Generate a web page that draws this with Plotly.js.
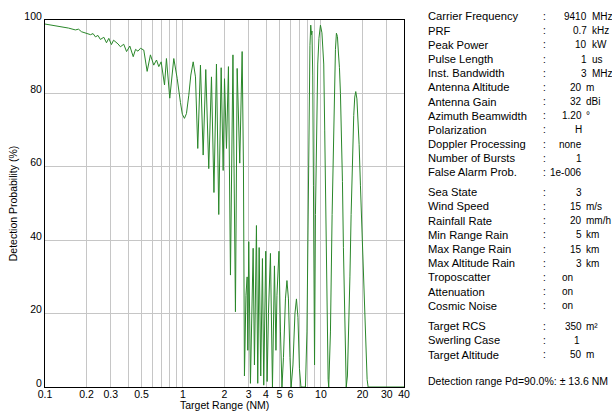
<!DOCTYPE html>
<html>
<head>
<meta charset="utf-8">
<script src="https://cdn.plot.ly/plotly-3.0.1.min.js"></script>
<style>
  html, body { margin: 0; padding: 0; background: #fff; }
  #chart { width: 612px; height: 412px; }
</style>
</head>
<body>
<div id="chart"></div>
<script>
// ---- Data ----
const rangeNM = [
  0.1, 0.113, 0.1295, 0.148, 0.166, 0.175, 0.184, 0.202, 0.214, 0.223,
  0.232, 0.242, 0.252, 0.267, 0.279, 0.290, 0.303, 0.314, 0.324, 0.338,
  0.352, 0.372, 0.390, 0.412, 0.436, 0.453, 0.472, 0.492, 0.520, 0.550,
  0.581, 0.614, 0.643, 0.668, 0.695, 0.735, 0.759, 0.802, 0.858, 0.908,
  0.959, 0.99, 1.025, 1.06, 1.102, 1.14, 1.186, 1.232, 1.280, 1.339,
  1.401, 1.463, 1.538, 1.609, 1.677, 1.749, 1.817, 1.892, 1.956, 2.0,
  2.067, 2.136, 2.209, 2.303, 2.401, 2.471, 2.580, 2.685, 2.744, 2.79,
  2.861, 2.919, 2.949, 2.998, 3.084, 3.162, 3.226, 3.297, 3.409, 3.483,
  3.566, 3.662, 3.768, 3.850, 3.981, 4.075, 4.165, 4.306, 4.453, 4.603,
  4.720, 4.800, 4.963, 5.089, 5.218, 5.350, 5.531, 5.671, 5.815, 5.963,
  6.083, 6.268, 6.480, 6.645, 6.813, 6.986, 7.163, 7.468, 7.722, 7.918,
  8.051, 8.185, 8.324, 8.436, 8.535, 8.606, 8.722, 8.825, 8.913, 8.987,
  9.123, 9.278, 9.480, 9.672, 9.917, 10.167, 10.48, 10.65, 10.83, 11.05,
  11.28, 11.39, 11.72, 12.05, 12.32, 12.53, 12.74, 12.95, 13.17, 13.39,
  13.62, 13.85, 14.08, 14.32, 14.55, 14.80, 15.05, 15.25, 15.56, 15.82,
  16.22, 16.55, 16.91, 17.29, 17.58, 17.88, 18.23, 18.54, 18.92, 19.33,
  19.82, 20.42, 21.01, 21.62, 21.98, 30, 40
];
const detectionPct = [
  98.9, 98.6, 98.2, 97.8, 97.3, 97.5, 96.8, 96.4, 96.0, 96.3,
  95.4, 95.8, 94.7, 95.3, 93.8, 95.0, 93.3, 94.5, 94.1, 93.5,
  92.7, 93.4, 91.4, 92.9, 90.0, 92.0, 91.5, 92.3, 91.8, 86.0,
  90.5, 87.7, 89.1, 87.3, 88.6, 82.3, 89.5, 78.7, 89.5, 84.1,
  77.5, 74.3, 73.2, 74.5, 79.5, 85.0, 88.6, 84.5, 65.0, 87.7,
  63.2, 86.5, 59.5, 84.5, 53.0, 88.0, 47.0, 87.0, 59.0, 84.0,
  65.0, 87.3, 30.5, 90.5, 20.5, 86.8, 61.0, 91.4, 60.0, 3.0,
  25, 30, 10, 39.6, 1, 20, 37.8, 6, 44, 1,
  38, 3, 35, 0.5, 37, 1.5, 20, 36.4, 0, 33,
  10, 25, 37, 15, 0, 8, 24, 29, 24, 8,
  0, 6, 20, 24, 19, 5, 0, 0, 0, 15,
  45, 75, 93, 98.6, 96, 97, 85, 55, 25, 6,
  47, 72, 88, 95, 98.6, 96.5, 88, 70, 47, 20,
  2, 0, 15, 47, 70, 83, 92, 96.4, 95.5, 91,
  87, 80, 70, 56, 38, 20, 6, 0, 3, 12,
  30, 47, 62, 74, 79, 80.5, 78.5, 74, 66, 55,
  42, 28, 12, 2, 0, 0, 0
];

const xTickVals = [0.1, 0.2, 0.3, 0.5, 1, 2, 3, 4, 5, 6, 10, 20, 30, 40];
const xTickText = ['0.1', '0.2', '0.3', '0.5', '1', '2', '3', '4', '5', '6', '10', '20', '30', '40'];
const xMinorGrid = [0.4, 0.6, 0.7, 0.8, 0.9, 7, 8, 9];
const yTickVals = [0, 20, 40, 60, 80, 100];
const xTitle = 'Target Range (NM)';
const yTitle = 'Detection Probability (%)';

const paramLabels = ['Carrier Frequency', 'PRF', 'Peak Power', 'Pulse Length', 'Inst. Bandwidth',
  'Antenna Altitude', 'Antenna Gain', 'Azimuth Beamwidth', 'Polarization', 'Doppler Processing',
  'Number of Bursts', 'False Alarm Prob.',
  'Sea State', 'Wind Speed', 'Rainfall Rate', 'Min Range Rain', 'Max Range Rain',
  'Max Altitude Rain', 'Troposcatter', 'Attenuation', 'Cosmic Noise',
  'Target RCS', 'Swerling Case', 'Target Altitude'];
const paramValues = ['9410', '0.7', '10', '1', '3', '20', '32', '1.20', 'H', 'none', '1', '1e-006',
  '3', '15', '20', '5', '15', '3', 'on', 'on', 'on', '350', '1', '50'];
const paramUnits = ['MHz', 'kHz', 'kW', 'us', 'MHz', 'm', 'dBi', '°', '', '', '', '',
  '', 'm/s', 'mm/h', 'km', 'km', 'km', '', '', '', 'm²', '', 'm'];
const summaryText = 'Detection range Pd=90.0%: ± 13.6 NM';

// ---- Layout helpers (pixel placement of the side panel) ----
const M = {l: 45, r: 208, t: 20, b: 25};
const W = 612, H = 412;
const pw = W - M.l - M.r, ph = H - M.t - M.b;
const px2x = px => (px - M.l) / pw;
const py2y = py => (H - M.b - py) / ph;

function rowY(i) {
  if (i < 12) return 16.5 + 14.18 * i;
  if (i < 21) return 192.3 + 14.18 * (i - 12);
  return 326.3 + 14.18 * (i - 21);
}
function valueRight(i) {
  if (i < 5) return 587.5;
  if (i >= 18 && i <= 20) return 573.5;
  if (i === 22) return 580.5;
  return 582.5;
}
function unitLeft(i) { return i < 5 ? 590.5 : 585; }

const fam = 'Liberation Sans, Arial, sans-serif';
const font = {family: fam, size: 11, color: '#000'};
const labelFont = {family: fam, size: 11.2, color: '#000'};
const valueFont = {family: fam, size: 10, color: '#000'};
const summaryFont = {family: fam, size: 10.5, color: '#000'};
const annotations = [];
function addText(text, px, py, anchor, f) {
  annotations.push({
    text: text, xref: 'paper', yref: 'paper', x: px2x(px), y: py2y(py),
    xanchor: anchor, yanchor: 'middle', showarrow: false, font: f, borderpad: 0
  });
}
paramLabels.forEach((lab, i) => {
  const y = rowY(i);
  addText(lab, 427, y, 'left', labelFont);
  addText(':', 544, y, 'center', valueFont);
  addText(paramValues[i], valueRight(i), y, 'right', valueFont);
  if (paramUnits[i]) addText(paramUnits[i], unitLeft(i), y, 'left', valueFont);
});
addText(summaryText, 427, 381, 'left', summaryFont);
addText(xTitle, 224, 405.5, 'center', {family: fam, size: 10.5, color: '#000'});

const trace = {
  x: rangeNM, y: detectionPct, type: 'scatter', mode: 'lines',
  line: {color: '#2a872a', width: 1}, hoverinfo: 'skip'
};

const gridColor = '#c6c6c6';
const tickFont = {family: fam, size: 10.5, color: '#000'};
const layout = {
  width: W, height: H,
  margin: M,
  paper_bgcolor: '#fff', plot_bgcolor: '#fff',
  showlegend: false,
  font: font,
  xaxis: {
    type: 'log', range: [Math.log10(0.1), Math.log10(40)],
    tickmode: 'array', tickvals: xTickVals, ticktext: xTickText,
    showgrid: true, gridcolor: gridColor, gridwidth: 1,
    minor: {tickmode: 'array', tickvals: xMinorGrid, showgrid: true, gridcolor: gridColor, gridwidth: 1, ticks: ''},
    showline: true, mirror: true, linecolor: '#000', linewidth: 1,
    ticks: '', zeroline: false, automargin: false,
    ticklabelstandoff: -3,
    tickfont: tickFont
  },
  yaxis: {
    range: [0, 100], tickmode: 'array', tickvals: yTickVals,
    showgrid: true, gridcolor: gridColor, gridwidth: 1,
    showline: true, mirror: true, linecolor: '#000', linewidth: 1,
    ticks: '', zeroline: false, automargin: false,
    ticklabelshift: -4,
    tickfont: tickFont,
    title: {text: yTitle, font: {family: fam, size: 10.5, color: '#000'}, standoff: 4}
  },
  annotations: annotations
};

Plotly.newPlot('chart', [trace], layout, {staticPlot: true, displayModeBar: false});
</script>
</body>
</html>
